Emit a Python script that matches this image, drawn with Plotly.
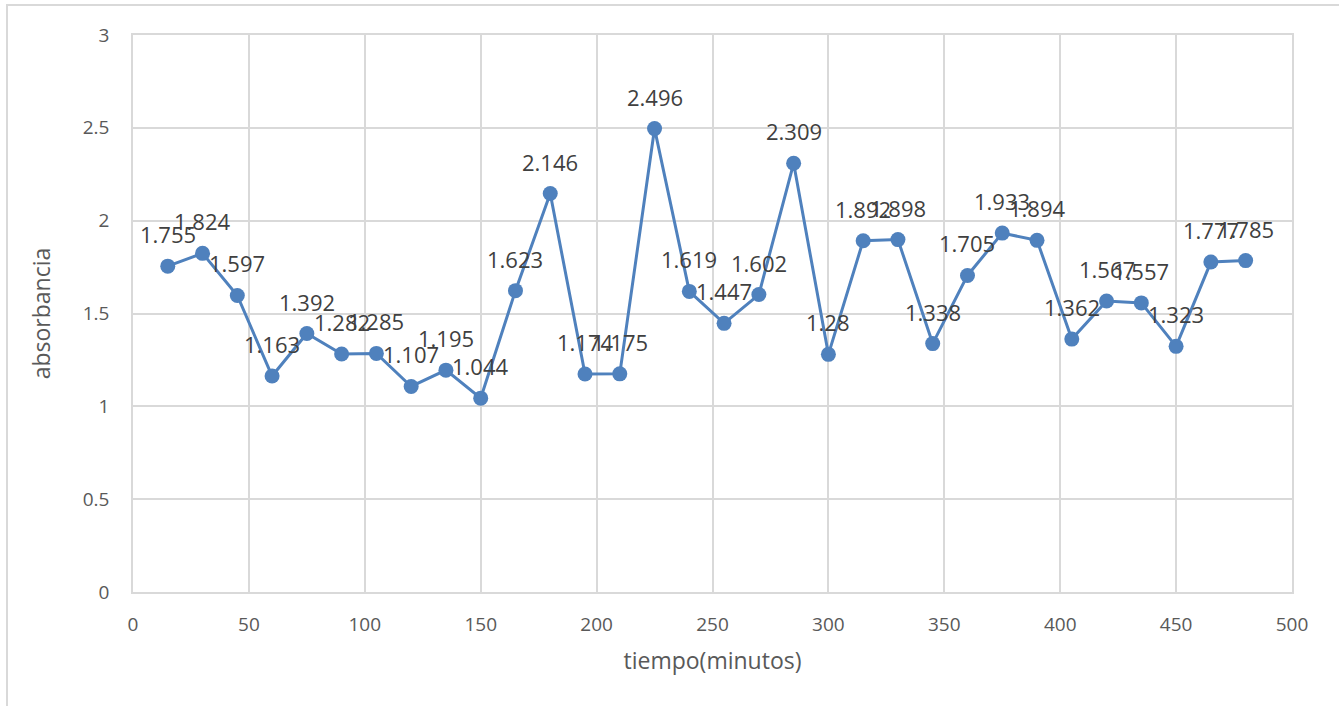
import plotly.graph_objects as go

# tiempo (minutos) and absorbancia
tiempo = [15, 30, 45, 60, 75, 90, 105, 120, 135, 150, 165, 180, 195, 210, 225, 240,
          255, 270, 285, 300, 315, 330, 345, 360, 375, 390, 405, 420, 435, 450, 465, 480]
absorbancia = [1.755, 1.824, 1.597, 1.163, 1.392, 1.282, 1.285, 1.107, 1.195, 1.044,
               1.623, 2.146, 1.174, 1.175, 2.496, 1.619, 1.447, 1.602, 2.309, 1.28,
               1.892, 1.898, 1.338, 1.705, 1.933, 1.894, 1.362, 1.567, 1.557, 1.323,
               1.777, 1.785]

x_ticks = [0, 50, 100, 150, 200, 250, 300, 350, 400, 450, 500]
y_ticks = [0, 0.5, 1, 1.5, 2, 2.5, 3]

LINE = "#4F81BD"
TEXT = "#595959"
GRID = "#D9D9D9"
FONT = "Open Sans"

fig = go.Figure()
fig.add_trace(
    go.Scatter(
        x=tiempo,
        y=absorbancia,
        mode="lines+markers",
        line=dict(color=LINE, width=3),
        marker=dict(color=LINE, size=15),
        showlegend=False,
    )
)

for t, a in zip(tiempo, absorbancia):
    fig.add_annotation(
        x=t, y=a, text=f"{a:g}", showarrow=False,
        yshift=32, font=dict(family=FONT, size=22, color="#404040"),
    )

# outer chart border
fig.add_shape(
    type="rect", xref="paper", yref="paper",
    x0=-0.1087, x1=1.2, y0=-0.4, y1=1.054,
    line=dict(color=GRID, width=2), layer="below",
)

fig.update_layout(
    width=1339,
    height=706,
    margin=dict(l=133, r=47, t=35, b=114),
    paper_bgcolor="white",
    plot_bgcolor="white",
    font=dict(family=FONT, color=TEXT),
)
fig.update_xaxes(
    range=[0, 500], tickvals=x_ticks, showgrid=True, gridcolor=GRID, gridwidth=1.5,
    zeroline=False, showline=True, mirror=True, linecolor=GRID, linewidth=1.5,
    tickfont=dict(size=19, color=TEXT), ticklabelstandoff=14,
    title=dict(text="tiempo(minutos)", font=dict(size=23, color=TEXT), standoff=17),
)
fig.update_yaxes(
    range=[0, 3], tickvals=y_ticks, showgrid=True, gridcolor=GRID, gridwidth=1.5,
    zeroline=False, showline=True, mirror=True, linecolor=GRID, linewidth=1.5,
    tickfont=dict(size=19, color=TEXT), ticklabelstandoff=18,
    title=dict(text="absorbancia", font=dict(size=23, color=TEXT), standoff=26),
)

fig.write_html(
    "out.html",
    config={"displayModeBar": False},
    post_script="document.body.style.margin = '0';",
)
